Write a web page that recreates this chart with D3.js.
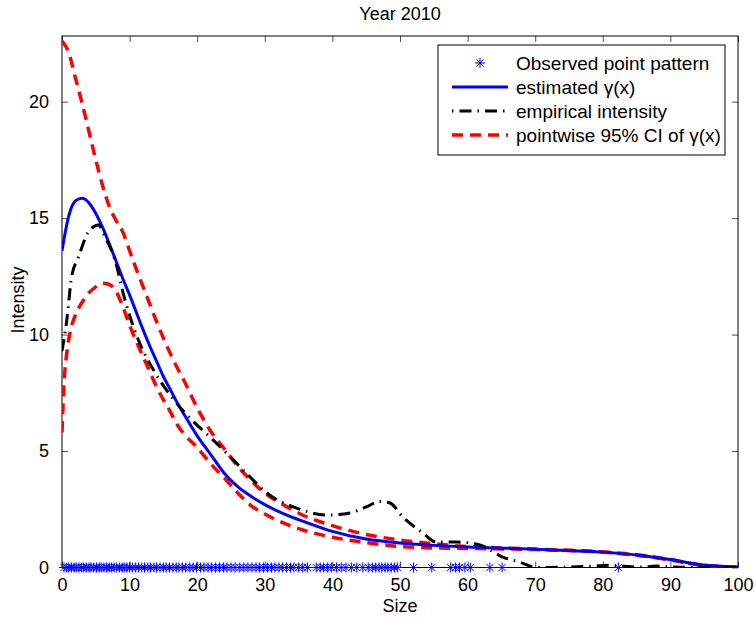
<!DOCTYPE html>
<html>
<head>
<meta charset="utf-8">
<script src="https://cdn.jsdelivr.net/npm/d3@7"></script>
<style>
  body { margin: 0; background: #fff; }
  svg { display: block; font-family: "Liberation Sans", Arial, Helvetica, sans-serif; }
</style>
</head>
<body>
<svg id="chart" width="755" height="619"></svg>
<script>
// ---- data ----
const xTicks = [0, 10, 20, 30, 40, 50, 60, 70, 80, 90, 100];
const yTicks = [0, 5, 10, 15, 20];

const estX = [0, 1, 2, 3, 4, 5, 6, 7, 8, 9, 10, 11, 12, 13, 14, 15, 16, 17, 18, 20, 22, 24, 26, 28, 30, 33, 36, 40, 45, 50, 55, 60, 66, 72, 80, 85, 90, 94, 97, 100];
const estY = [13.6, 15.1, 15.75, 15.85, 15.65, 15.2, 14.6, 13.9, 13.15, 12.4, 11.7, 10.95, 10.2, 9.5, 8.85, 8.2, 7.65, 7.1, 6.6, 5.65, 4.85, 4.05, 3.47, 3.05, 2.7, 2.28, 1.95, 1.55, 1.22, 1.05, 0.95, 0.88, 0.83, 0.76, 0.66, 0.54, 0.34, 0.14, 0.06, 0.02];

const upX = [0, 1, 2, 3, 4, 5, 6, 7, 8, 9, 10, 11, 12, 13, 14, 15, 16, 17, 18, 20, 22, 24, 26, 28, 30, 33, 36, 40, 45, 50, 55, 60, 65, 70, 80, 85, 90, 94, 97, 100];
const upY = [22.6, 22.1, 21.0, 19.9, 18.7, 17.5, 16.4, 15.5, 14.9, 14.4, 13.6, 12.8, 12.05, 11.3, 10.55, 9.85, 9.2, 8.6, 8.05, 6.85, 5.85, 5.1, 4.35, 3.72, 3.2, 2.65, 2.2, 1.8, 1.42, 1.18, 1.02, 0.9, 0.84, 0.79, 0.67, 0.55, 0.34, 0.13, 0.05, 0.02];

const loX = [0, 0.3, 0.7, 1.2, 2, 3, 4, 5, 6, 7, 8, 9, 10, 11, 12, 13, 14, 15, 16, 17, 18, 20, 22, 24, 26, 28, 30, 33, 36, 40, 45, 50, 55, 60, 70, 80, 85, 90, 94, 97, 100];
const loY = [5.8, 7.9, 9.2, 10.1, 10.85, 11.4, 11.8, 12.05, 12.2, 12.15, 11.85, 11.2, 10.4, 9.7, 9.05, 8.4, 7.75, 7.2, 6.7, 6.15, 5.75, 5.15, 4.45, 3.85, 3.2, 2.65, 2.3, 1.88, 1.58, 1.3, 1.07, 0.9, 0.84, 0.82, 0.77, 0.66, 0.53, 0.32, 0.12, 0.04, 0.01];

const empX = [0, 0.2, 0.7, 1.43, 2.4, 3.9, 5.4, 6.36, 7.84, 9.3, 11.3, 13.8, 16.2, 18.9, 21.9, 24.9, 27.8, 30.3, 34.7, 39.2, 42.6, 45, 47, 48.5, 50.4, 53.4, 55.4, 58.4, 61.8, 65.2, 67.8, 69.7, 72, 75, 78, 81, 83, 86, 88, 90, 95, 100];
const empY = [9.3, 9.63, 10.6, 12.5, 13.3, 14.4, 14.7, 14.2, 13.2, 11.5, 9.77, 8.35, 7.33, 6.42, 5.6, 4.75, 3.89, 3.2, 2.55, 2.25, 2.34, 2.6, 2.83, 2.77, 2.17, 1.48, 1.09, 1.09, 0.97, 0.45, 0.22, 0.03, 0.0, 0.02, 0.05, 0.1, 0.05, 0.02, 0.06, 0.02, 0.0, 0.0];

const observed = [0.3,0.7,1.0,1.4,1.8,2.1,2.5,2.9,3.2,3.6,4.0,4.3,4.7,5.1,5.5,5.8,6.2,6.6,7.0,7.3,7.7,8.1,8.5,8.9,9.2,9.6,10.0,10.4,10.9,11.3,11.8,12.2,12.7,13.1,13.6,14.0,14.5,15.0,15.4,15.9,16.4,16.9,17.3,17.8,18.3,18.9,19.4,19.9,20.5,21.0,21.6,22.1,22.7,23.3,23.9,24.4,25.0,25.6,26.3,26.9,27.5,28.1,28.7,29.2,29.8,30.4,31.0,31.5,32.1,32.6,33.2,33.8,34.3,35.0,35.6,36.3,37.6,38.2,38.7,39.3,39.9,40.6,41.3,42.0,42.8,43.6,44.5,45.3,45.9,46.4,46.9,47.3,47.8,48.2,48.7,49.2,49.6,52.0,54.7,57.5,58.2,58.8,59.6,60.4,63.3,65.1,82.3];

const legendLabels = ["Observed point pattern", "estimated \u03B3(x)", "empirical intensity", "pointwise 95% CI of \u03B3(x)"];

// ---- layout ----
const L = 62, R = 738, T = 36, B = 567.5;
const svg = d3.select("#chart");
const x = d3.scaleLinear().domain([0, 100]).range([L, R]);
const y = d3.scaleLinear().domain([0, 22.82]).range([B, T]);

svg.append("defs").append("clipPath").attr("id", "clip")
  .append("rect").attr("x", L).attr("y", T).attr("width", R - L).attr("height", B - T);

// axes
const fs = "18px";
const axB = svg.append("g").attr("transform", `translate(0,${B})`)
  .call(d3.axisBottom(x).tickValues(xTicks).tickSizeInner(-6).tickSizeOuter(0).tickPadding(11));
const axT = svg.append("g").attr("transform", `translate(0,${T})`)
  .call(d3.axisTop(x).tickValues(xTicks).tickSizeInner(-6).tickSizeOuter(0).tickFormat(""));
const axL = svg.append("g").attr("transform", `translate(${L},0)`)
  .call(d3.axisLeft(y).tickValues(yTicks).tickSizeInner(-6).tickSizeOuter(0).tickPadding(13));
const axR = svg.append("g").attr("transform", `translate(${R},0)`)
  .call(d3.axisRight(y).tickValues(yTicks).tickSizeInner(-6).tickSizeOuter(0).tickFormat(""));
[axB, axT, axL, axR].forEach(a => {
  a.selectAll("text").attr("font-size", fs).attr("fill", "#000").attr("font-family", "Liberation Sans, Arial, sans-serif");
  a.selectAll(".tick line").attr("stroke", "#555");
  a.select(".domain").remove();
});
// box
svg.append("rect").attr("x", L).attr("y", T).attr("width", R - L).attr("height", B - T)
  .attr("fill", "none").attr("stroke", "#000").attr("stroke-width", 1);

const plot = svg.append("g").attr("clip-path", "url(#clip)");

const lineGen = d3.line().x(d => x(d[0])).y(d => y(d[1])).curve(d3.curveMonotoneX);
const zip = (a, b) => a.map((v, i) => [v, b[i]]);

// observed asterisks
function asterisk(cx, cy, r) {
  const p = d3.path();
  p.moveTo(cx - r, cy); p.lineTo(cx + r, cy);
  p.moveTo(cx, cy - r); p.lineTo(cx, cy + r);
  const k = r * 0.72;
  p.moveTo(cx - k, cy - k); p.lineTo(cx + k, cy + k);
  p.moveTo(cx - k, cy + k); p.lineTo(cx + k, cy - k);
  return p.toString();
}
svg.append("g").selectAll("path").data(observed).join("path")
  .attr("d", d => asterisk(x(d), y(0), 5))
  .attr("stroke", "#0000ff").attr("stroke-width", 1).attr("fill", "none");

// CI lines
plot.append("path").attr("d", lineGen(zip(upX, upY)))
  .attr("fill", "none").attr("stroke", "#ff0000").attr("stroke-width", 3.5).attr("stroke-dasharray", "11,7");
plot.append("path").attr("d", lineGen(zip(loX, loY)))
  .attr("fill", "none").attr("stroke", "#ff0000").attr("stroke-width", 3.5).attr("stroke-dasharray", "11,7");
// estimated
plot.append("path").attr("d", lineGen(zip(estX, estY)))
  .attr("fill", "none").attr("stroke", "#0000ff").attr("stroke-width", 3);
// empirical
plot.append("path").attr("d", lineGen(zip(empX, empY)))
  .attr("fill", "none").attr("stroke", "#000").attr("stroke-width", 3).attr("stroke-dasharray", "12,6,1.5,6");

// titles
svg.append("text").attr("x", 400).attr("y", 20).attr("text-anchor", "middle").attr("font-size", "18px").text("Year 2010");
svg.append("text").attr("x", 400).attr("y", 612).attr("text-anchor", "middle").attr("font-size", "18px").text("Size");
svg.append("text").attr("transform", "translate(24,300) rotate(-90)").attr("text-anchor", "middle").attr("font-size", "18px").text("Intensity");

// legend
const lg = svg.append("g");
lg.append("rect").attr("x", 438).attr("y", 45).attr("width", 287).attr("height", 110)
  .attr("fill", "#fff").attr("stroke", "#000").attr("stroke-width", 1);
const rows = [63, 87, 111, 135];
lg.append("path").attr("d", asterisk(480, rows[0], 5)).attr("stroke", "#0000ff").attr("stroke-width", 1).attr("fill", "none");
lg.append("line").attr("x1", 452).attr("x2", 508).attr("y1", rows[1]).attr("y2", rows[1]).attr("stroke", "#0000ff").attr("stroke-width", 3);
lg.append("line").attr("x1", 452).attr("x2", 508).attr("y1", rows[2]).attr("y2", rows[2]).attr("stroke", "#000").attr("stroke-width", 3).attr("stroke-dasharray", "1.5,6,12,6");
lg.append("line").attr("x1", 452).attr("x2", 508).attr("y1", rows[3]).attr("y2", rows[3]).attr("stroke", "#ff0000").attr("stroke-width", 3.5).attr("stroke-dasharray", "11,7");
lg.selectAll("text.lab").data(legendLabels).join("text").attr("class", "lab")
  .attr("x", 516).attr("y", (d, i) => rows[i] + 6.5).attr("font-size", "19px").text(d => d);
</script>
</body>
</html>
